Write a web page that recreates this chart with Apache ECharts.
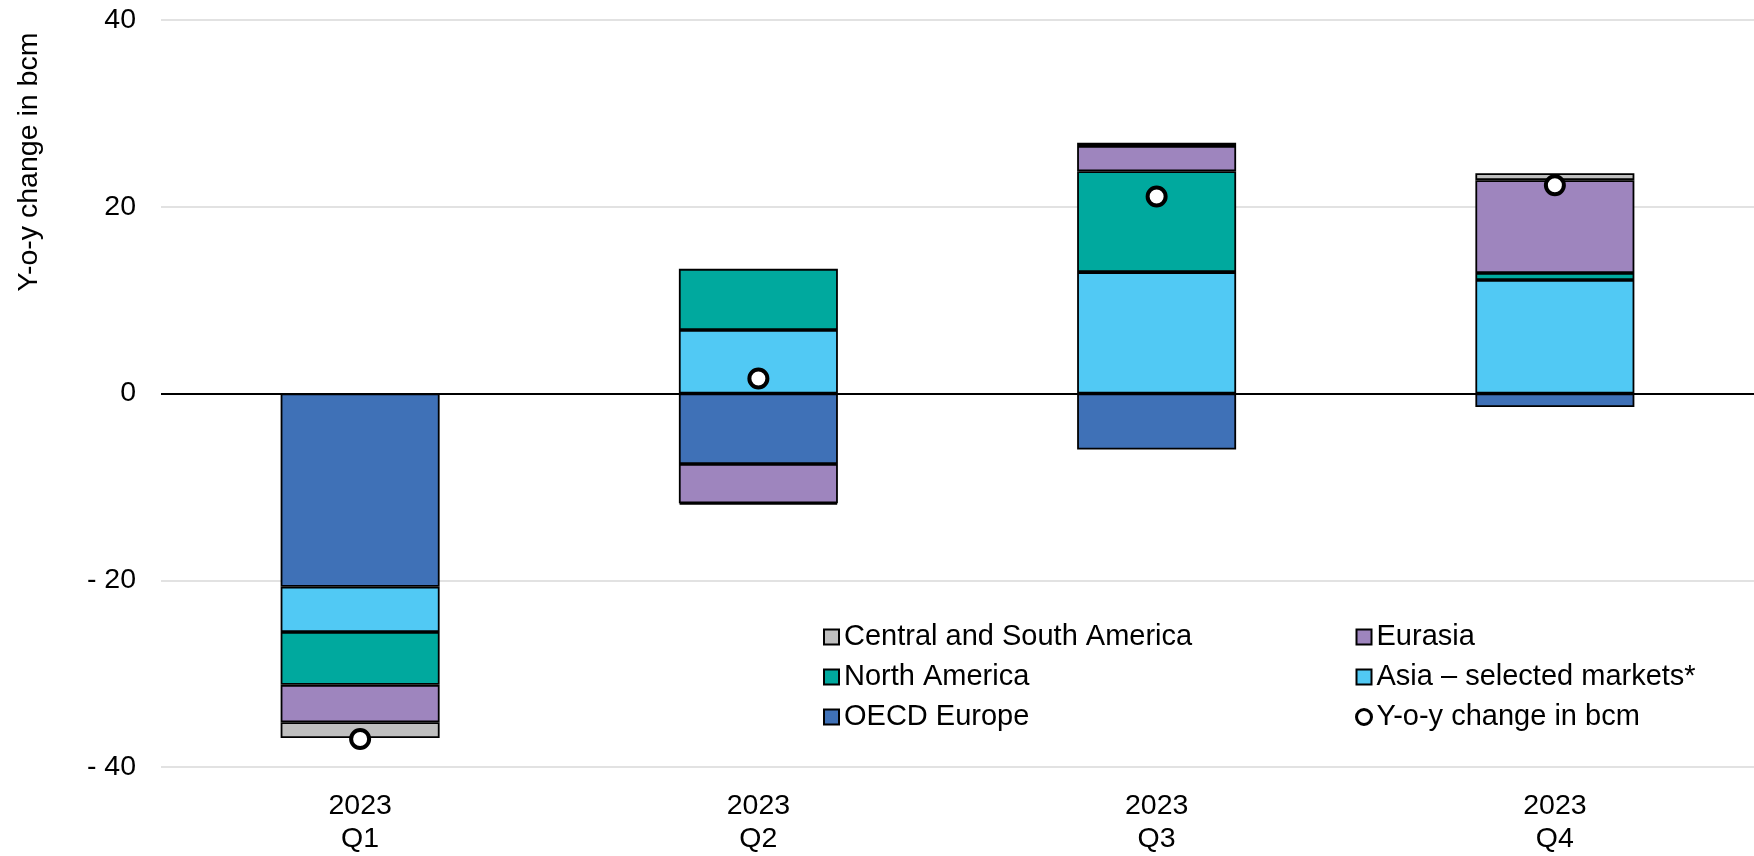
<!DOCTYPE html>
<html>
<head>
<meta charset="utf-8">
<script src="https://cdn.jsdelivr.net/npm/echarts@6/dist/echarts.min.js"></script>
<style>
html,body{margin:0;padding:0;background:#fff;}
#chart{width:1754px;height:856px;}
</style>
</head>
<body>
<div id="chart"></div>
<script>
var categories = ['2023\nQ1', '2023\nQ2', '2023\nQ3', '2023\nQ4'];
var oecdEurope = [-20.7, -7.55, -6.0, -1.45];
var asiaSelected = [-4.85, 6.8, 13.0, 12.15];
var northAmerica = [-5.65, 6.55, 10.8, 0.75];
var eurasia = [-4.0, -4.2, 2.7, 9.95];
var centralSouthAmerica = [-1.7, -0.15, 0.35, 0.75];
var yoyChange = [-37.0, 1.6, 21.1, 22.3];
var yTicks = [-40, -20, 0, 20, 40];

var FONT = 'Liberation Sans, Arial, sans-serif';
var chart = echarts.init(document.getElementById('chart'), null, {renderer: 'canvas'});

function barSeries(name, data, color) {
  return {
    name: name, type: 'bar', stack: 'total', data: data,
    barWidth: 159,
    itemStyle: {color: color, borderColor: '#000', borderWidth: 1.8},
    emphasis: {disabled: true}
  };
}

var legendText = {color: '#000', fontSize: 29, fontFamily: FONT, lineHeight: 30};

var option = {
  animation: false,
  backgroundColor: '#fff',
  textStyle: {fontFamily: FONT},
  grid: {left: 161, top: 20, width: 1596, height: 747, containLabel: false},
  xAxis: {
    type: 'category', data: categories,
    axisLine: {show: false}, axisTick: {show: false},
    splitLine: {show: false},
    axisLabel: {color: '#000', fontSize: 28.5, fontFamily: FONT, lineHeight: 33, margin: 23, interval: 0}
  },
  yAxis: {
    type: 'value', min: yTicks[0], max: yTicks[yTicks.length - 1], interval: 20,
    axisLine: {show: false}, axisTick: {show: false},
    splitLine: {show: true, lineStyle: {color: '#d9d9d9', width: 1.5}},
    axisLabel: {
      color: '#000', fontSize: 28.5, fontFamily: FONT, margin: 25,
      formatter: function (v) { return v < 0 ? '- ' + (-v) : String(v); }
    }
  },
  legend: [
    {
      orient: 'vertical', left: 818, top: 617, itemGap: 10,
      itemWidth: 15, itemHeight: 15, icon: 'rect',
      textStyle: legendText,
      data: ['Central and South America', 'North America', 'OECD Europe']
    },
    {
      orient: 'vertical', left: 1350, top: 617, itemGap: 10,
      itemWidth: 15, itemHeight: 15,
      textStyle: legendText,
      data: [
        {name: 'Eurasia', icon: 'rect'},
        {name: 'Asia \u2013 selected markets*', icon: 'rect'},
        {name: 'Y-o-y change in bcm', icon: 'circle', itemStyle: {borderWidth: 3}}
      ]
    }
  ],
  graphic: [{
    type: 'text', x: 29, y: 162, rotation: Math.PI / 2,
    style: {text: 'Y-o-y change in bcm', fill: '#000', font: '28.5px ' + FONT, align: 'center', verticalAlign: 'middle'}
  }],
  series: [
    barSeries('OECD Europe', oecdEurope, '#3f71b7'),
    barSeries('Asia \u2013 selected markets*', asiaSelected, '#51c9f4'),
    barSeries('North America', northAmerica, '#00a99e'),
    barSeries('Eurasia', eurasia, '#9e85be'),
    barSeries('Central and South America', centralSouthAmerica, '#bfbfbf'),
    {
      name: 'Y-o-y change in bcm', type: 'scatter', data: yoyChange,
      symbol: 'circle', symbolSize: 18, z: 10,
      itemStyle: {color: '#fff', borderColor: '#000', borderWidth: 4, opacity: 1},
      emphasis: {disabled: true},
      markLine: {
        silent: true, symbol: ['none', 'none'], label: {show: false},
        lineStyle: {color: '#000', width: 2, type: 'solid'},
        data: [{yAxis: 0}]
      }
    }
  ]
};
chart.setOption(option);
</script>
</body>
</html>
